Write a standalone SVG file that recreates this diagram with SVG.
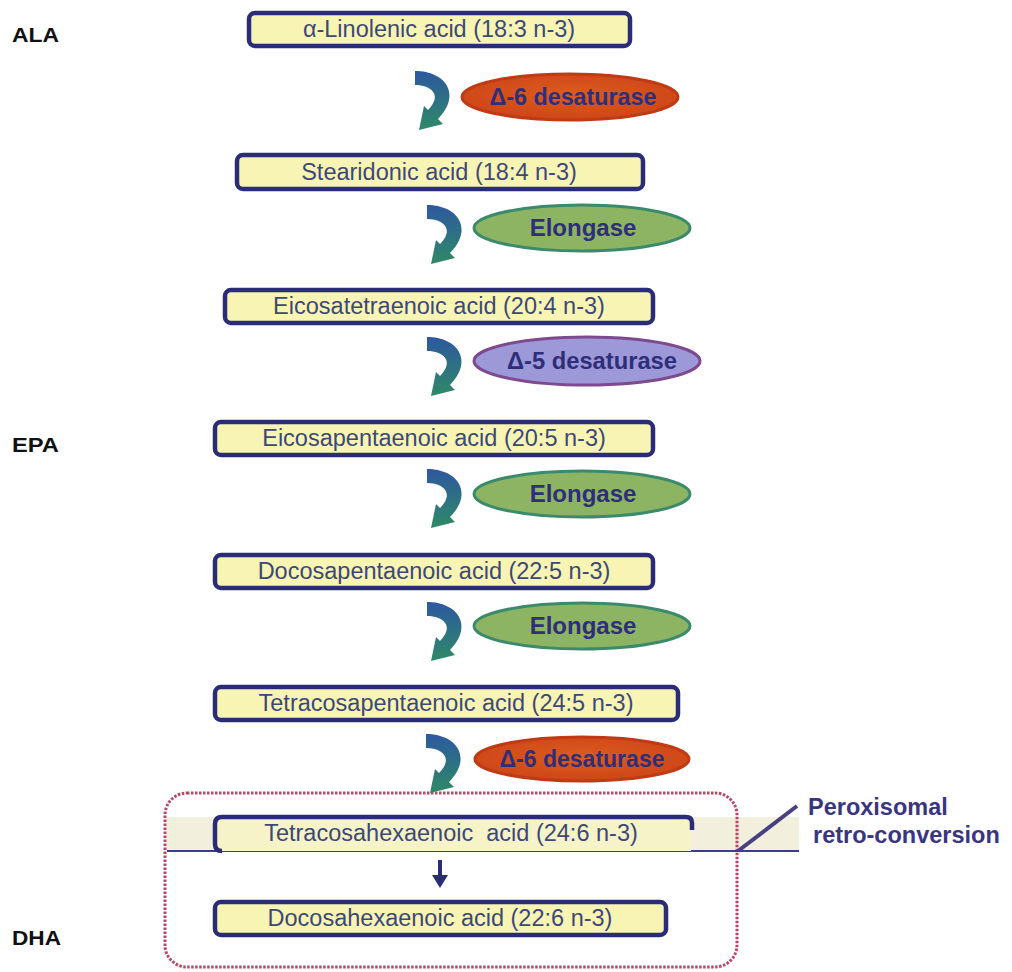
<svg xmlns="http://www.w3.org/2000/svg" width="1012" height="972" viewBox="0 0 1012 972">
<defs>
<linearGradient id="arrGrad" x1="0" y1="0" x2="0" y2="1">
<stop offset="0" stop-color="#2d58a0"/>
<stop offset="1" stop-color="#2f8a66"/>
</linearGradient>
<path id="curveArrow" d="M0,0 C31,0 47,24 23,48 L28,53 L4,59 L9,35 L13,39 C28,24 16,14 0,14 Z"/>
<radialGradient id="redGrad" cx="0.5" cy="0.45" r="0.6">
<stop offset="0" stop-color="#dc5c1e"/>
<stop offset="1" stop-color="#cc4418"/>
</radialGradient>
</defs>
<style>
.box{fill:#f8f5b4;stroke:#2b2c78;stroke-width:4.5}
.btxt{font-family:"Liberation Sans",Arial,sans-serif;font-size:23.5px;fill:#3d4876;text-anchor:middle}
.etxt{font-family:"Liberation Sans",Arial,sans-serif;font-size:24px;font-weight:bold;fill:#2e2f78;text-anchor:middle}
.lbl{font-family:"Liberation Sans",Arial,sans-serif;font-size:21px;font-weight:bold;fill:#111}
.red{fill:url(#redGrad);stroke:#c03a16;stroke-width:3}
.green{fill:#8cb462;stroke:#3c8a6c;stroke-width:3}
.purple{fill:#9d98d8;stroke:#7d4a90;stroke-width:3}
.arr{fill:url(#arrGrad)}
</style>
<rect width="1012" height="972" fill="#ffffff"/>

<g id="labels">
<text class="lbl" x="12" y="42" textLength="47" lengthAdjust="spacingAndGlyphs">ALA</text>
<text class="lbl" x="12" y="452" textLength="47" lengthAdjust="spacingAndGlyphs">EPA</text>
<text class="lbl" x="12" y="945" textLength="49" lengthAdjust="spacingAndGlyphs">DHA</text>
</g>

<g id="peroxisome">
<rect x="166" y="817" width="633" height="34" fill="#f2f0dc"/>
<rect x="165" y="793" width="572" height="174" rx="22" fill="none" stroke="#b8476a" stroke-width="3" stroke-dasharray="2.5 1.5"/>
<path d="M167 851 L799 851" stroke="#3b3f86" stroke-width="2" fill="none"/>
<path d="M738 851 L797 806" stroke="#4a3f80" stroke-width="4" fill="none"/>
<text x="808" y="815" font-family="'Liberation Sans',Arial,sans-serif" font-size="23.5" font-weight="bold" fill="#3a3580">Peroxisomal</text>
<text x="813" y="843" font-family="'Liberation Sans',Arial,sans-serif" font-size="23.5" font-weight="bold" fill="#3a3580">retro-conversion</text>
</g>

<g id="n1"><rect class="box" x="249" y="13" width="381" height="33" rx="6"/><text class="btxt" x="439" y="37">α-Linolenic acid (18:3 n-3)</text></g>
<g id="n2"><rect class="box" x="237" y="155" width="406" height="34" rx="6"/><text class="btxt" x="439" y="180">Stearidonic acid (18:4 n-3)</text></g>
<g id="n3"><rect class="box" x="225" y="290" width="428" height="33" rx="6"/><text class="btxt" x="439" y="314">Eicosatetraenoic acid (20:4 n-3)</text></g>
<g id="n4"><rect class="box" x="215" y="422" width="438" height="33" rx="6"/><text class="btxt" x="434" y="446">Eicosapentaenoic acid (20:5 n-3)</text></g>
<g id="n5"><rect class="box" x="215" y="555" width="438" height="33" rx="6"/><text class="btxt" x="434" y="579">Docosapentaenoic acid (22:5 n-3)</text></g>
<g id="n6"><rect class="box" x="215" y="687" width="463" height="33" rx="6"/><text class="btxt" x="446" y="711">Tetracosapentaenoic acid (24:5 n-3)</text></g>
<g id="n7">
<rect x="215" y="817" width="476" height="34" fill="#f6f3c8"/>
<path d="M222 817 Q215 817 215 824 L215 844 Q215 851 222 851" fill="none" stroke="#2b2c78" stroke-width="4.5"/>
<path d="M222 817 L686 817 Q692 817 692 823 L692 830" fill="none" stroke="#2b2c78" stroke-width="4.5"/>
<text class="btxt" x="451" y="841" style="white-space:pre">Tetracosahexaenoic  acid (24:6 n-3)</text>
</g>
<g id="n8"><rect class="box" x="215" y="902" width="451" height="33" rx="6"/><text class="btxt" x="440" y="926">Docosahexaenoic acid (22:6 n-3)</text></g>

<g id="e1"><ellipse class="red" cx="570" cy="97" rx="108" ry="23"/><text class="etxt" x="573" y="105" textLength="167" lengthAdjust="spacingAndGlyphs">Δ-6 desaturase</text></g>
<g id="e2"><ellipse class="green" cx="582" cy="228" rx="108" ry="23"/><text class="etxt" x="583" y="236">Elongase</text></g>
<g id="e3"><ellipse class="purple" cx="587" cy="361" rx="113" ry="24"/><text class="etxt" x="592" y="369" textLength="170" lengthAdjust="spacingAndGlyphs">Δ-5 desaturase</text></g>
<g id="e4"><ellipse class="green" cx="582" cy="494" rx="108" ry="23"/><text class="etxt" x="583" y="502">Elongase</text></g>
<g id="e5"><ellipse class="green" cx="582" cy="626" rx="108" ry="23"/><text class="etxt" x="583" y="634">Elongase</text></g>
<g id="e6"><ellipse class="red" cx="582" cy="759" rx="107" ry="22"/><text class="etxt" x="582" y="767" textLength="165" lengthAdjust="spacingAndGlyphs">Δ-6 desaturase</text></g>

<g id="connectors">
<use href="#curveArrow" class="arr" x="415" y="71"/>
<use href="#curveArrow" class="arr" x="427" y="205"/>
<use href="#curveArrow" class="arr" x="427" y="337"/>
<use href="#curveArrow" class="arr" x="427" y="469"/>
<use href="#curveArrow" class="arr" x="427" y="602"/>
<use href="#curveArrow" class="arr" x="426" y="734"/>
<path d="M438 860 L442 860 L442 875 L448 875 L440 888 L432 875 L438 875 Z" fill="#2b2c78"/>
</g>
</svg>
